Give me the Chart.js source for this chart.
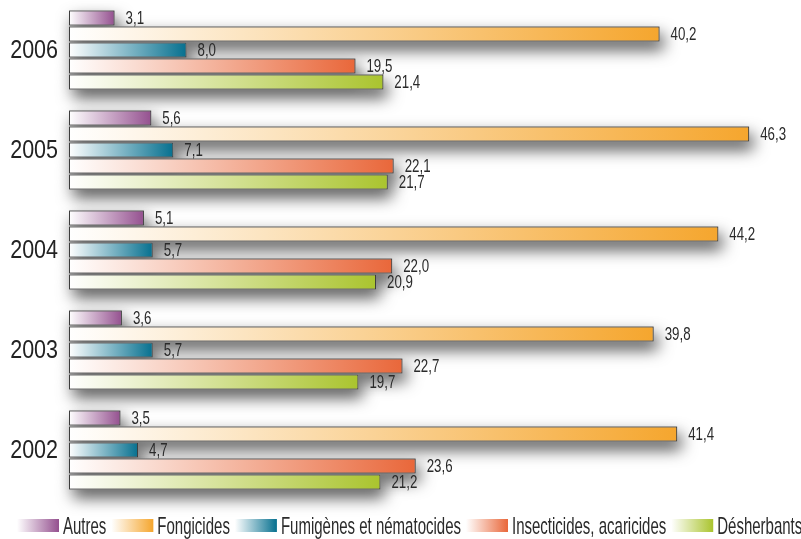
<!DOCTYPE html>
<html>
<head>
<meta charset="utf-8">
<script src="https://cdn.jsdelivr.net/npm/chart.js@4.4.1/dist/chart.umd.min.js"></script>
<style>
  html, body { margin: 0; padding: 0; background: #fff; }
  #wrap { width: 801px; height: 539px; }
</style>
</head>
<body>
<div id="wrap"><canvas id="chart" width="801" height="539"></canvas></div>
<script>
// years, top to bottom
const years = ['2006', '2005', '2004', '2003', '2002'];
const seriesNames = ['Autres', 'Fongicides', 'Fumigènes et nématocides', 'Insecticides, acaricides', 'Désherbants'];
const seriesColors = ['#94508f', '#f5a62e', '#06708f', '#e9673a', '#aac42e'];

const autres       = [3.1, 5.6, 5.1, 3.6, 3.5];
const fongicides   = [40.2, 46.3, 44.2, 39.8, 41.4];
const fumigenes    = [8.0, 7.1, 5.7, 5.7, 4.7];
const insecticides = [19.5, 22.1, 22.0, 22.7, 23.6];
const desherbants  = [21.4, 21.7, 20.9, 19.7, 21.2];

const allSeries = [autres, fongicides, fumigenes, insecticides, desherbants];

const FONT = '"Liberation Sans", Arial, sans-serif';

function fmt(v) {
    return v.toFixed(1).replace('.', ',');
}

// draw text squeezed horizontally (the original uses a condensed face)
function squeezedText(ctx, text, x, y, sx) {
    ctx.save();
    ctx.translate(x, y);
    ctx.scale(sx, 1);
    ctx.fillText(text, 0, 0);
    ctx.restore();
}

// white -> colour gradient along each bar
function barGradient(context, color) {
    const chart = context.chart;
    if (!chart.chartArea || context.parsed == null) return color;
    const x = chart.scales.x;
    const x0 = x.getPixelForValue(0);
    const x1 = x.getPixelForValue(context.parsed.x);
    if (!isFinite(x1) || x1 - x0 < 1) return color;
    const g = chart.ctx.createLinearGradient(x0, 0, x1, 0);
    g.addColorStop(0, '#ffffff');
    g.addColorStop(1, color);
    return g;
}

// soft drop shadow drawn behind all bars first
const shadowPlugin = {
    id: 'barShadow',
    beforeDatasetsDraw(chart) {
        const ctx = chart.ctx;
        ctx.save();
        ctx.shadowColor = 'rgba(0,0,0,0.7)';
        ctx.shadowBlur = 16;
        ctx.shadowOffsetX = 4;
        ctx.shadowOffsetY = 8;
        ctx.fillStyle = '#999999';
        chart.data.datasets.forEach((ds, i) => {
            chart.getDatasetMeta(i).data.forEach(bar => {
                const left = Math.min(bar.base, bar.x);
                const w = Math.abs(bar.x - bar.base);
                ctx.fillRect(left, bar.y - bar.height / 2, w, bar.height);
            });
        });
        ctx.restore();
    }
};

// value labels right of each bar
const valuePlugin = {
    id: 'barValues',
    afterDatasetsDraw(chart) {
        const ctx = chart.ctx;
        ctx.save();
        ctx.font = '19px ' + FONT;
        ctx.fillStyle = '#2a2a2a';
        ctx.textBaseline = 'middle';
        ctx.textAlign = 'left';
        chart.data.datasets.forEach((ds, i) => {
            chart.getDatasetMeta(i).data.forEach((bar, j) => {
                squeezedText(ctx, fmt(ds.data[j]), bar.x + 11, bar.y + 1, 0.7);
            });
        });
        ctx.restore();
    }
};

// year labels, placed by the category scale
const yearPlugin = {
    id: 'yearLabels',
    afterDraw(chart) {
        const ctx = chart.ctx;
        const yScale = chart.scales.y;
        ctx.save();
        ctx.font = '25px ' + FONT;
        ctx.fillStyle = '#222222';
        ctx.textBaseline = 'middle';
        ctx.textAlign = 'right';
        chart.data.labels.forEach((lab, i) => {
            const y = yScale.getPixelForTick(i);
            squeezedText(ctx, lab, chart.chartArea.left - 11, y + 1, 0.86);
        });
        ctx.restore();
    }
};

// legend along the bottom with gradient swatches
const legendPlugin = {
    id: 'gradLegend',
    afterDraw(chart) {
        const ctx = chart.ctx;
        const sx = 0.625;
        const y = 526;
        let x = 17;
        ctx.save();
        ctx.font = '24px ' + FONT;
        ctx.textBaseline = 'middle';
        ctx.textAlign = 'left';
        chart.data.datasets.forEach(ds => {
            const g = ctx.createLinearGradient(x, 0, x + 42, 0);
            g.addColorStop(0, '#ffffff');
            g.addColorStop(1, ds.baseColor);
            ctx.fillStyle = g;
            ctx.fillRect(x, y - 7, 42, 13);
            x += 46;
            ctx.fillStyle = '#2a2a2a';
            squeezedText(ctx, ds.label, x, y + 1, sx);
            x += ctx.measureText(ds.label).width * sx + 5;
        });
        ctx.restore();
    }
};

const datasets = seriesNames.map((name, i) => ({
    label: name,
    data: allSeries[i],
    baseColor: seriesColors[i],
    backgroundColor: ctx => barGradient(ctx, seriesColors[i]),
    borderColor: '#3c3c3c',
    borderWidth: 1,
    borderSkipped: false,
    categoryPercentage: 0.8,
    barPercentage: 0.94
}));

new Chart(document.getElementById('chart').getContext('2d'), {
    type: 'bar',
    data: { labels: years, datasets: datasets },
    plugins: [shadowPlugin, valuePlugin, yearPlugin, legendPlugin],
    options: {
        indexAxis: 'y',
        responsive: false,
        animation: false,
        devicePixelRatio: 1,
        layout: { padding: { top: 0, right: 0, bottom: 39, left: 0 } },
        plugins: {
            legend: { display: false },
            tooltip: { enabled: false }
        },
        scales: {
            x: {
                display: false,
                min: 0,
                max: 49.83
            },
            y: {
                grid: { display: false },
                border: { display: false },
                ticks: { display: false },
                afterFit(scale) { scale.width = 69; }
            }
        }
    }
});
</script>
</body>
</html>
